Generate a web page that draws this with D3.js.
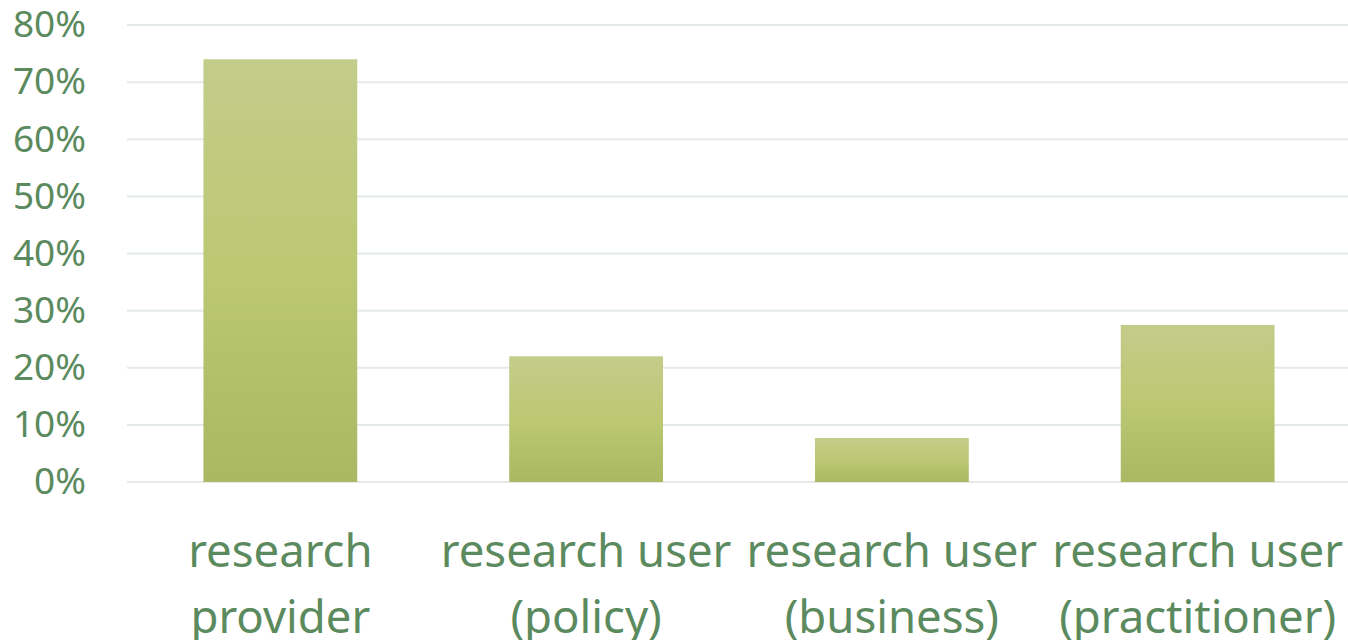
<!DOCTYPE html>
<html>
<head>
<meta charset="utf-8">
<script src="https://cdn.jsdelivr.net/npm/d3@7"></script>
<style>
  html, body { margin: 0; padding: 0; background: #fff; overflow: hidden; }
  svg { display: block; }
  text { font-family: "Noto Sans", "Open Sans", sans-serif; fill: #5b8a5e; }
</style>
</head>
<body>
<svg id="chart"></svg>
<script>
const categories = [
    ["research", "provider"],
    ["research user", "(policy)"],
    ["research user", "(business)"],
    ["research user", "(practitioner)"]
];
const shares = [0.74, 0.22, 0.077, 0.275];
const yTicks = [0, 0.1, 0.2, 0.3, 0.4, 0.5, 0.6, 0.7, 0.8];

const width = 1348, height = 640;
const margin = { top: 25, right: 0, bottom: 158, left: 127 };

const svg = d3.select("#chart")
    .attr("width", width)
    .attr("height", height);

// vertical gradient shared by all bars
const grad = svg.append("defs").append("linearGradient")
    .attr("id", "barFill")
    .attr("x1", 0).attr("y1", 0).attr("x2", 0).attr("y2", 1);
grad.append("stop").attr("offset", "0%").attr("stop-color", "#c3cc8a");
grad.append("stop").attr("offset", "50%").attr("stop-color", "#bcc873");
grad.append("stop").attr("offset", "100%").attr("stop-color", "#aab763");

const x = d3.scaleBand()
    .domain(d3.range(categories.length))
    .range([margin.left, width + 3])
    .paddingInner(0.497)
    .paddingOuter(0.25);

const y = d3.scaleLinear()
    .domain([0, 0.8])
    .range([height - margin.bottom, margin.top]);

// gridlines
svg.append("g")
    .selectAll("line")
    .data(yTicks)
    .join("line")
    .attr("x1", margin.left)
    .attr("x2", width)
    .attr("y1", d => y(d))
    .attr("y2", d => y(d))
    .attr("stroke", "#e4ebe4")
    .attr("stroke-width", 2);

// y axis labels
const yAxis = svg.append("g")
    .attr("transform", `translate(86,0)`)
    .call(d3.axisLeft(y).tickValues(yTicks).tickFormat(d3.format(".0%")).tickSize(0).tickPadding(0));
yAxis.select(".domain").remove();
yAxis.attr("font-family", null);
yAxis.selectAll("text")
    .attr("font-size", 37)
    .attr("fill", null);

// bars
svg.append("g")
    .selectAll("rect")
    .data(shares)
    .join("rect")
    .attr("x", (d, i) => x(i))
    .attr("width", x.bandwidth())
    .attr("y", d => y(d))
    .attr("height", d => y(0) - y(d))
    .attr("fill", "url(#barFill)");

// category labels, two lines each
const labels = svg.append("g")
    .selectAll("text")
    .data(categories)
    .join("text")
    .attr("text-anchor", "middle")
    .attr("font-size", 45.5)
    .attr("x", (d, i) => x(i) + x.bandwidth() / 2)
    .attr("y", 567);
labels.selectAll("tspan")
    .data(d => d)
    .join("tspan")
    .attr("x", function () { return this.parentNode.getAttribute("x"); })
    .attr("dy", (d, i) => i === 0 ? 0 : 66)
    .text(d => d);
</script>
</body>
</html>
